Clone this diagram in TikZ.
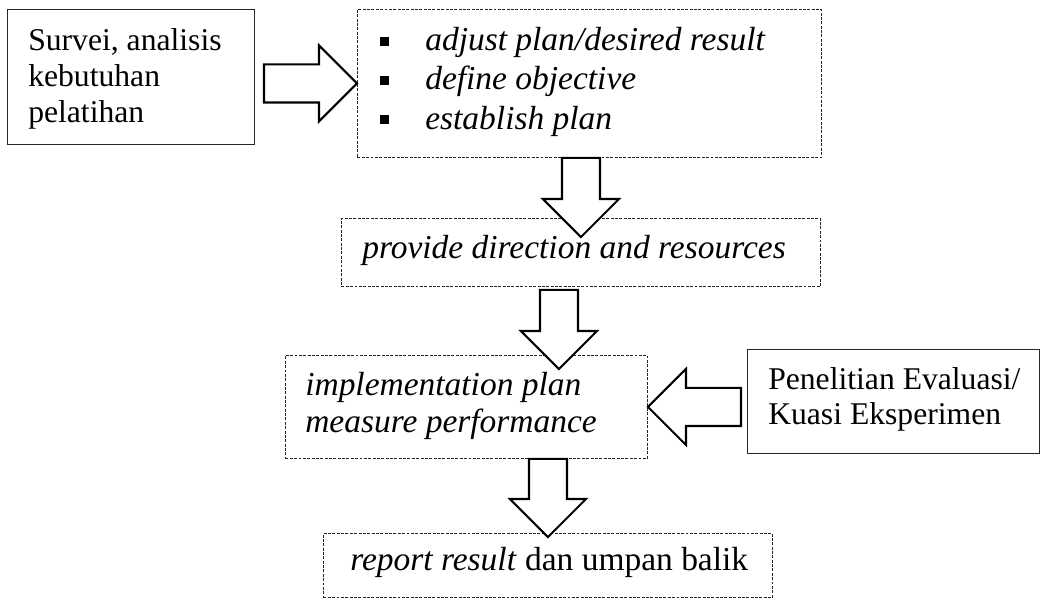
\documentclass[tikz,border=0pt]{standalone}
\usepackage{fontspec}
\setmainfont{Liberation Serif}
\usetikzlibrary{calc}

% hollow block arrow from #1 (tail) to #2 (tip)
\newcommand{\blockarrow}[2]{%
    \coordinate (ba-base) at ($(#2)!0.95cm!(#1)$);
    \draw[blockarrow]
        ($(#1)!0.475cm!90:(#2)$) -- ($(ba-base)!0.475cm!-90:(#1)$)
        -- ($(ba-base)!0.95cm!-90:(#1)$) -- (#2)
        -- ($(ba-base)!0.95cm!90:(#1)$) -- ($(ba-base)!0.475cm!90:(#1)$)
        -- ($(#1)!0.475cm!-90:(#2)$) -- cycle;
}
\newcommand{\sqbullet}{\raisebox{0.125cm}{\rule{0.225cm}{0.225cm}}}
\newcommand{\tightlines}{\lineskiplimit=-100pt\relax}

\begin{document}
\begin{tikzpicture}[
    x=0.025cm, y=-0.025cm,
    every node/.style={inner sep=0pt},
]

% ---------------------------------------------------------------- colours
\definecolor{ink}{HTML}{000000}      % arrows, text
\definecolor{frame}{HTML}{262626}    % box outlines

% ---------------------------------------------------------------- styles
\tikzset{
    solidbox/.style={
        rectangle, anchor=north west, draw=frame, line width=0.7pt,
    },
    dashbox/.style={
        rectangle, anchor=north west, draw=frame, line width=0.6pt,
        dash pattern=on 2.1pt off 1pt,
    },
    boxtext/.style={
        anchor=north west, align=left, text=ink,
    },
    blockarrow/.style={
        draw=ink, line width=1.5pt, fill=white, line join=miter,
    },
}

\useasboundingbox (0,0) rectangle (1041,600);

% ================================================================
% GEOMETRY (1 unit = 1 px, y grows downwards)
%   top row      y in [9, 157]
%   main column  x in [285, 821]
%   side boxes   left x = 7, right x = 1039
% ================================================================

% ---------------------------------------------------------------- boxes
\node[solidbox, minimum width=6.175cm, minimum height=3.375cm]
    (survei) at (7, 9) {};
\node[dashbox, minimum width=11.6cm, minimum height=3.7cm]
    (plan) at (357, 9) {};
\node[dashbox, minimum width=11.975cm, minimum height=1.7cm]
    (prov) at (341, 218) {};
\node[dashbox, minimum width=9.05cm, minimum height=2.575cm]
    (impl) at (285, 355) {};
\node[solidbox, minimum width=7.3cm, minimum height=2.6cm]
    (eval) at (747, 349) {};
\node[dashbox, minimum width=11.225cm, minimum height=1.6cm]
    (report) at (323, 533) {};

% ---------------------------------------------------------------- arrows
\coordinate (r1) at ($(plan.west -| survei.east)+(9,0)$);
\blockarrow{r1}{plan.west}

\coordinate (d1) at (prov.north |- plan.south);
\coordinate (d1tip) at ($(prov.north)+(0,19)$);
\blockarrow{d1}{d1tip}

\coordinate (d2) at ($(prov.south)+(-22,3)$);
\coordinate (d2tip) at ($(impl.north -| d2)+(0,14)$);
\blockarrow{d2}{d2tip}

\coordinate (d3) at (report.north |- impl.south);
\coordinate (d3tip) at ($(report.north)+(0,4)$);
\blockarrow{d3}{d3tip}

\coordinate (l1) at ($(impl.east -| eval.west)+(-6,0)$);
\blockarrow{l1}{impl.east}

% ---------------------------------------------------------------- texts
\node[boxtext, font=\fontsize{22.5pt}{25.6pt}\selectfont\tightlines]
    (surveitext) at (28, 27.9) {Survei, analisis\\kebutuhan\\pelatihan};

\node[boxtext, font=\fontsize{23.8pt}{27.9pt}\selectfont\itshape\tightlines]
    (plantext) at (380, 27.2)
    {\sqbullet\hspace{0.9cm}adjust plan/desired result\\
     \sqbullet\hspace{0.9cm}define objective\\
     \sqbullet\hspace{0.9cm}establish plan};

\node[boxtext, font=\fontsize{23.8pt}{27.7pt}\selectfont\itshape]
    (provtext) at (362, 235.2) {provide direction and resources};

\node[boxtext, font=\fontsize{23.8pt}{26.3pt}\selectfont\itshape\tightlines]
    (impltext) at (305, 372.2) {implementation plan\\measure performance};

\node[boxtext, font=\fontsize{22.5pt}{24.9pt}\selectfont\tightlines]
    (evaltext) at (768, 367.4) {Penelitian Evaluasi/\\Kuasi Eksperimen};

\node[boxtext, font=\fontsize{23.8pt}{27.7pt}\selectfont]
    (reporttext) at (350, 547.2) {\textit{report result} dan umpan balik};

\end{tikzpicture}
\end{document}
